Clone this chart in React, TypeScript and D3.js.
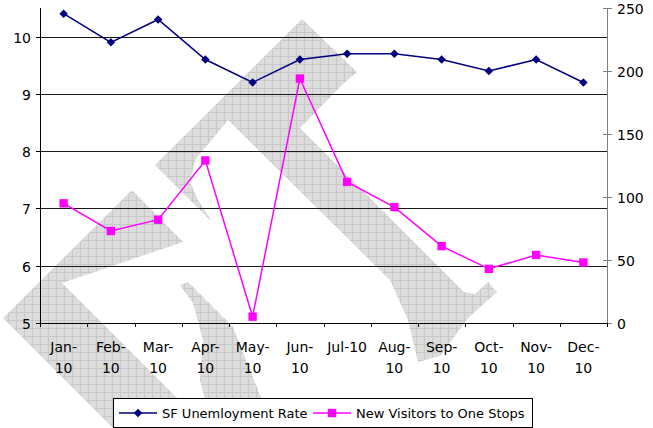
import React, { useEffect, useRef } from 'react';
import * as d3 from 'd3';

// chart values
const months = ['Jan-10', 'Feb-10', 'Mar-10', 'Apr-10', 'May-10', 'Jun-10', 'Jul-10', 'Aug-10', 'Sep-10', 'Oct-10', 'Nov-10', 'Dec-10'];
const monthLines = [['Jan-', '10'], ['Feb-', '10'], ['Mar-', '10'], ['Apr-', '10'], ['May-', '10'], ['Jun-', '10'], ['Jul-10'], ['Aug-', '10'], ['Sep-', '10'], ['Oct-', '10'], ['Nov-', '10'], ['Dec-', '10']];
const unemployment = [10.4, 9.9, 10.3, 9.6, 9.2, 9.6, 9.7, 9.7, 9.6, 9.4, 9.6, 9.2];
const visitors = [95, 73, 82, 129, 5, 194, 112, 92, 61, 43, 54, 48];
const leftTicks = [5, 6, 7, 8, 9, 10];
const rightTicks = [0, 50, 100, 150, 200, 250];
const seriesNames = ['SF Unemloyment Rate', 'New Visitors to One Stops'];

// grey stamp behind the plot (decoration only)
const stamp = [
  [[3, 318], [132, 190], [183, 242], [62, 283], [219, 440], [125, 440]],
  [[302, 19], [155, 165], [212, 222], [198, 200], [190, 182], [195, 160], [228, 120], [390, 280], [408, 320], [418, 362], [440, 356], [468, 318], [497, 292], [488, 282], [475, 294], [464, 292], [300, 128], [343, 84], [357, 72]],
  [[180, 285], [188, 282], [233, 327], [262, 400], [262, 440], [215, 440], [200, 380], [203, 340], [193, 303]],
];

const FONT = "'DejaVu Sans', Verdana, sans-serif";

export default function App() {
  const ref = useRef(null);

  useEffect(() => {
    const width = 653;
    const height = 428;
    const m = { left: 40, right: 607, top: 8, bottom: 323 };

    const svg = d3.select(ref.current);
    svg.selectAll('*').remove();
    svg.attr('width', width).attr('height', height);

    svg.append('rect').attr('width', width).attr('height', height).attr('fill', '#fff');

    const defs = svg.append('defs');
    const pat = defs.append('pattern')
      .attr('id', 'hatch')
      .attr('width', 8)
      .attr('height', 8)
      .attr('patternUnits', 'userSpaceOnUse');
    pat.append('rect').attr('width', 8).attr('height', 8).attr('fill', '#dcdcdc');
    pat.append('path').attr('d', 'M0 0.5H8M0.5 0V8').attr('stroke', '#c8c8c8').attr('stroke-width', 1);

    const x = d3.scaleBand().domain(months).range([m.left, m.right]).padding(0);
    const yL = d3.scaleLinear().domain([5, 10.5]).range([m.bottom, m.top]);
    const yR = d3.scaleLinear().domain([0, 250]).range([m.bottom, m.top]);
    const cx = (d) => x(d) + x.bandwidth() / 2;

    // stamp
    svg.append('g')
      .selectAll('path')
      .data(stamp)
      .enter()
      .append('path')
      .attr('d', (d) => d3.line()(d) + 'Z')
      .attr('fill', 'url(#hatch)');

    // gridlines
    svg.append('g')
      .selectAll('line')
      .data(leftTicks.filter((t) => t > 5))
      .enter()
      .append('line')
      .attr('x1', m.left)
      .attr('x2', m.right)
      .attr('y1', (d) => Math.round(yL(d)) + 0.5)
      .attr('y2', (d) => Math.round(yL(d)) + 0.5)
      .attr('stroke', '#1a1a1a')
      .attr('stroke-width', 1);

    // left axis
    const gl = svg.append('g').attr('font-family', FONT).attr('font-size', 14);
    gl.append('line')
      .attr('x1', m.left + 0.5).attr('x2', m.left + 0.5)
      .attr('y1', m.top).attr('y2', m.bottom)
      .attr('stroke', '#000');
    leftTicks.forEach((t) => {
      const yy = Math.round(yL(t)) + 0.5;
      gl.append('line').attr('x1', m.left - 4).attr('x2', m.left).attr('y1', yy).attr('y2', yy).attr('stroke', '#000');
      gl.append('text')
        .attr('x', 31)
        .attr('y', yy)
        .attr('dy', '0.36em')
        .attr('text-anchor', 'end')
        .attr('fill', '#000')
        .text(t);
    });

    // right axis
    const gr = svg.append('g').attr('font-family', FONT).attr('font-size', 14);
    gr.append('line')
      .attr('x1', m.right + 0.5).attr('x2', m.right + 0.5)
      .attr('y1', m.top).attr('y2', m.bottom)
      .attr('stroke', '#808080');
    rightTicks.forEach((t) => {
      const yy = Math.round(yR(t)) + 0.5;
      gr.append('line').attr('x1', m.right - 4).attr('x2', m.right + 5).attr('y1', yy).attr('y2', yy).attr('stroke', '#808080');
      gr.append('text')
        .attr('x', 617)
        .attr('y', yy)
        .attr('dy', '0.36em')
        .attr('fill', '#000')
        .text(t);
    });

    // x axis
    const gx = svg.append('g').attr('font-family', FONT).attr('font-size', 14);
    gx.append('line')
      .attr('x1', m.left).attr('x2', m.right)
      .attr('y1', m.bottom + 0.5).attr('y2', m.bottom + 0.5)
      .attr('stroke', '#000');
    months.concat(['end']).forEach((d, i) => {
      const xx = Math.round(i < months.length ? x(d) : m.right) + 0.5;
      gx.append('line').attr('x1', xx).attr('x2', xx).attr('y1', m.bottom).attr('y2', m.bottom + 4).attr('stroke', '#000');
    });
    months.forEach((d, i) => {
      monthLines[i].forEach((ln, j) => {
        gx.append('text')
          .attr('x', cx(d))
          .attr('y', 352 + j * 21)
          .attr('text-anchor', 'middle')
          .attr('fill', '#000')
          .text(ln);
      });
    });

    // series
    const lineL = d3.line().x((d, i) => cx(months[i])).y((d) => yL(d));
    const lineR = d3.line().x((d, i) => cx(months[i])).y((d) => yR(d));

    svg.append('path')
      .attr('d', lineL(unemployment))
      .attr('fill', 'none')
      .attr('stroke', '#000080')
      .attr('stroke-width', 1.5);
    const diamond = d3.symbol(d3.symbolSquare, 36);
    svg.append('g')
      .selectAll('path')
      .data(unemployment)
      .enter()
      .append('path')
      .attr('d', diamond)
      .attr('transform', (d, i) => `translate(${cx(months[i])},${yL(d)}) rotate(45)`)
      .attr('fill', '#000080');

    svg.append('path')
      .attr('d', lineR(visitors))
      .attr('fill', 'none')
      .attr('stroke', '#ff00ff')
      .attr('stroke-width', 1.5);
    const square = d3.symbol(d3.symbolSquare, 70);
    svg.append('g')
      .selectAll('path')
      .data(visitors)
      .enter()
      .append('path')
      .attr('d', square)
      .attr('transform', (d, i) => `translate(${cx(months[i])},${yR(d)})`)
      .attr('fill', '#ff00ff');

    // legend
    const lg = svg.append('g').attr('font-family', FONT).attr('font-size', 13);
    lg.append('rect')
      .attr('x', 113.5).attr('y', 398.5)
      .attr('width', 419).attr('height', 29)
      .attr('fill', '#fff')
      .attr('stroke', '#000');
    const items = [
      { x: 119, color: '#000080', sym: diamond, rot: 45 },
      { x: 313, color: '#ff00ff', sym: square, rot: 0 },
    ];
    items.forEach((it, i) => {
      lg.append('line')
        .attr('x1', it.x).attr('x2', it.x + 38)
        .attr('y1', 413).attr('y2', 413)
        .attr('stroke', it.color).attr('stroke-width', 1.5);
      lg.append('path')
        .attr('d', it.sym)
        .attr('transform', `translate(${it.x + 19},413) rotate(${it.rot})`)
        .attr('fill', it.color);
      lg.append('text')
        .attr('x', it.x + 43)
        .attr('y', 413)
        .attr('dy', '0.36em')
        .attr('fill', '#000')
        .text(seriesNames[i]);
    });
  }, []);

  return <svg ref={ref} style={{ position: 'absolute', left: 0, top: 0 }} />;
}
